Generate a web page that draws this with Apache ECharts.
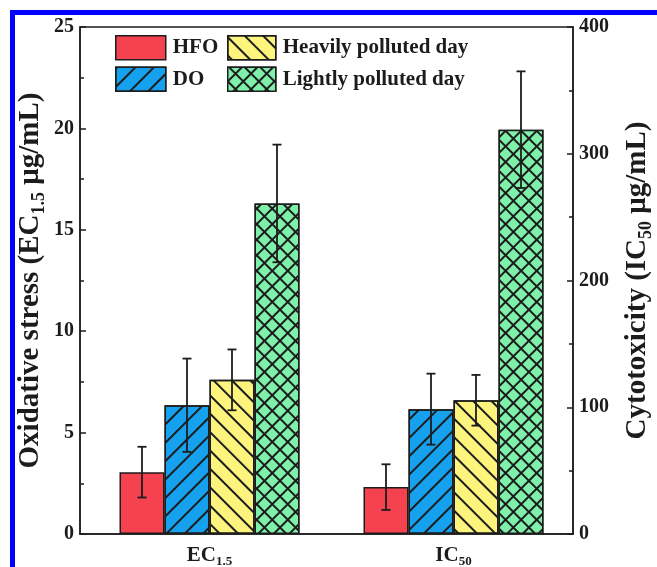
<!DOCTYPE html>
<html>
<head>
<meta charset="utf-8">
<script src="https://cdn.jsdelivr.net/npm/echarts@6/dist/echarts.min.js"></script>
<style>
  html, body { margin: 0; padding: 0; background: #fff; }
  #chart { width: 657px; height: 567px; }
</style>
</head>
<body>
<div id="chart"></div>
<script>
// Categories and groups
const categories = ['EC1.5', 'IC50'];
const groupNames = ['HFO', 'DO', 'Heavily polluted day', 'Lightly polluted day'];

// Oxidative stress (EC1.5, μg/mL) — left axis
const ecMeans = [3.05, 6.35, 7.6, 16.3];
const ecErrors = [1.25, 2.3, 1.5, 2.9];

// Cytotoxicity (IC50, μg/mL) — right axis
const icMeans = [37, 98.5, 105.5, 319];
const icErrors = [18, 28, 20, 46];

// Axis ticks
const leftTicks = [0, 5, 10, 15, 20, 25];
const rightTicks = [0, 100, 200, 300, 400];

const FONT = '"Liberation Serif", "Times New Roman", serif';
const INK = '#1c1c1c';
const BAR_W = 45;
const colors = ['#f4424f', '#16a1ee', '#fcf47c', '#7ff0aa'];
const decals = [
  null,
  { symbol: 'rect', color: INK, dashArrayX: [1, 0], dashArrayY: [1.4, 11], rotation: -Math.PI / 4 },
  { symbol: 'rect', color: INK, dashArrayX: [1, 0], dashArrayY: [1.4, 11], rotation: Math.PI / 4 },
  { symbol: 'rect', color: colors[3], backgroundColor: INK, dashArrayX: [9, 1.3], dashArrayY: [9, 1.3], rotation: Math.PI / 4 }
];

const chart = echarts.init(document.getElementById('chart'), null, { renderer: 'canvas' });

// Frame grid (visible axes) plus one plotting grid per category
const PLOT_TOP = 27, PLOT_H = 507;

function tickSpec(ticks) {
  return { min: ticks[0], max: ticks[ticks.length - 1], interval: ticks[1] - ticks[0] };
}

const subLabel = v => v.replace(/^([A-Z]+)(.*)$/, '{m|$1}{s|$2}');
const xLabelStyle = {
  show: true,
  margin: 9,
  formatter: subLabel,
  rich: {
    m: { fontFamily: FONT, fontWeight: 'bold', fontSize: 21, color: INK },
    s: { fontFamily: FONT, fontWeight: 'bold', fontSize: 13, color: INK, padding: [12, 0, 0, 0] }
  }
};

const valueAxisBase = {
  type: 'value',
  splitLine: { show: false },
  axisLine: { show: true, lineStyle: { color: INK, width: 1.5 } },
  axisTick: { show: true, inside: true, length: 6, lineStyle: { color: INK, width: 1.5 } },
  minorTick: { show: true, splitNumber: 2, length: 4, lineStyle: { color: INK, width: 1.5 } },
  axisLabel: { fontFamily: FONT, fontWeight: 'bold', fontSize: 20, color: INK, margin: 6 },
  nameLocation: 'middle',
  nameRotate: 90,
  nameMoveOverlap: false,
  nameTextStyle: {
    fontFamily: FONT, fontWeight: 'bold', fontSize: 29, color: INK,
    rich: {
      s: { fontFamily: FONT, fontWeight: 'bold', fontSize: 18, color: INK, padding: [16, 0, 0, 0] }
    }
  }
};

const series = [];
groupNames.forEach((name, i) => {
  const itemStyle = { color: colors[i], borderColor: INK, borderWidth: 1.5 };
  if (decals[i]) itemStyle.decal = decals[i];
  series.push({
    type: 'bar', name, xAxisIndex: 1, yAxisIndex: 2,
    data: [ecMeans[i]], barWidth: BAR_W, barGap: '0%', itemStyle, z: 2
  });
  series.push({
    type: 'bar', name, xAxisIndex: 2, yAxisIndex: 3,
    data: [icMeans[i]], barWidth: BAR_W, barGap: '0%', itemStyle, z: 2
  });
});

function errorRender(params, api) {
  const cat = api.value(0), mean = api.value(1), err = api.value(2), idx = api.value(3);
  const top = api.coord([cat, mean + err]);
  const bot = api.coord([cat, mean - err]);
  const x = top[0] + (idx - (groupNames.length - 1) / 2) * BAR_W;
  const cap = 4.5;
  const style = { stroke: INK, lineWidth: 1.8 };
  return {
    type: 'group',
    children: [
      { type: 'line', shape: { x1: x, y1: top[1], x2: x, y2: bot[1] }, style },
      { type: 'line', shape: { x1: x - cap, y1: top[1], x2: x + cap, y2: top[1] }, style },
      { type: 'line', shape: { x1: x - cap, y1: bot[1], x2: x + cap, y2: bot[1] }, style }
    ]
  };
}

series.push({
  type: 'custom', xAxisIndex: 1, yAxisIndex: 2, z: 5, silent: true,
  renderItem: errorRender, encode: { x: 0, y: 1 },
  data: groupNames.map((n, i) => [0, ecMeans[i], ecErrors[i], i])
});
series.push({
  type: 'custom', xAxisIndex: 2, yAxisIndex: 3, z: 5, silent: true,
  renderItem: errorRender, encode: { x: 0, y: 1 },
  data: groupNames.map((n, i) => [0, icMeans[i], icErrors[i], i])
});

const legendBase = {
  orient: 'vertical',
  top: 35,
  padding: 0,
  itemHeight: 24,
  itemGap: 6,
  icon: 'rect',
  itemStyle: { borderColor: INK, borderWidth: 1.5 },
  textStyle: { fontFamily: FONT, fontWeight: 'bold', fontSize: 21, color: INK, padding: [0, 0, 0, 2] },
  selectedMode: false
};

const gridBase = { top: PLOT_TOP, height: PLOT_H, outerBoundsMode: 'none', containLabel: false };

const option = {
  animation: false,
  backgroundColor: '#fff',
  legend: [
    Object.assign({}, legendBase, { left: 115, itemWidth: 50, data: [groupNames[0], groupNames[1]] }),
    Object.assign({}, legendBase, { left: 227, itemWidth: 48, data: [groupNames[2], groupNames[3]] })
  ],
  grid: [
    Object.assign({}, gridBase, { left: 80, width: 493, show: true, borderColor: INK, borderWidth: 1.5, backgroundColor: 'transparent' }),
    Object.assign({}, gridBase, { left: 87.5, width: 244 }),
    Object.assign({}, gridBase, { left: 331.5, width: 244 })
  ],
  xAxis: [
    { type: 'category', gridIndex: 0, data: categories,
      axisLine: { show: true, lineStyle: { color: INK, width: 1.5 } },
      axisTick: { show: false }, axisLabel: { show: false } },
    { type: 'category', gridIndex: 1, data: [categories[0]],
      axisLine: { show: false }, axisTick: { show: false }, axisLabel: xLabelStyle },
    { type: 'category', gridIndex: 2, data: [categories[1]],
      axisLine: { show: false }, axisTick: { show: false }, axisLabel: xLabelStyle }
  ],
  yAxis: [
    Object.assign({}, valueAxisBase, tickSpec(leftTicks), {
      gridIndex: 0, position: 'left', nameGap: 32,
      name: 'Oxidative stress (EC{s|1.5} μg/mL)'
    }),
    Object.assign({}, valueAxisBase, tickSpec(rightTicks), {
      gridIndex: 0, position: 'right', nameGap: 48,
      name: 'Cytotoxicity (IC{s|50} μg/mL)'
    }),
    Object.assign({ type: 'value', gridIndex: 1, show: false, splitLine: { show: false } }, tickSpec(leftTicks)),
    Object.assign({ type: 'value', gridIndex: 2, show: false, splitLine: { show: false } }, tickSpec(rightTicks))
  ],
  graphic: [
    { type: 'rect', silent: true, z: 100,
      shape: { x: 12.5, y: 12.5, width: 800, height: 800 },
      style: { fill: 'none', stroke: '#0000ff', lineWidth: 5 } }
  ],
  series
};

chart.setOption(option);
</script>
</body>
</html>
